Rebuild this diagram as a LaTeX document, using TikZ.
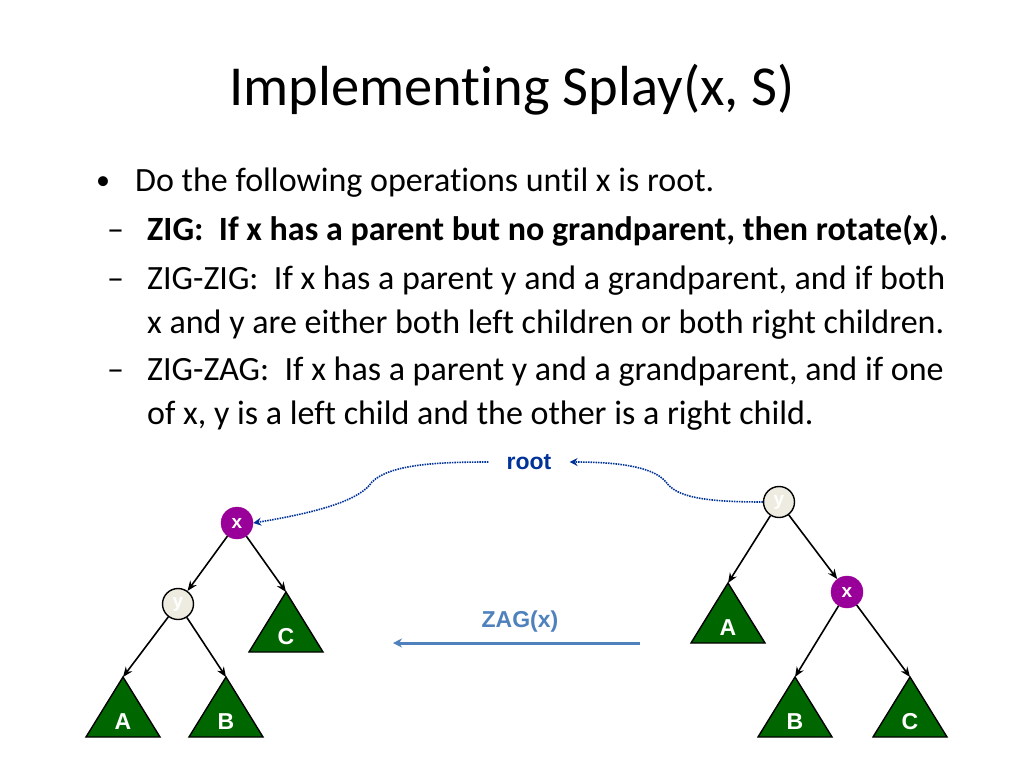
\documentclass[tikz,border=0pt]{standalone}
\usepackage{fontspec}
\setmainfont{Carlito}[Ligatures={NoCommon}]
\newfontfamily\arialf{Liberation Sans}
\usetikzlibrary{arrows.meta}
\definecolor{purp}{RGB}{153,0,153}
\definecolor{lightc}{RGB}{238,236,225}
\definecolor{tgreen}{RGB}{0,102,0}
\definecolor{rootblue}{RGB}{0,51,153}
\definecolor{zagblue}{RGB}{79,129,189}
\tikzset{
  xnode/.style={circle,fill=purp,draw=purp,minimum size=32pt,inner sep=0pt,text=white,font=\arialf\bfseries\fontsize{19}{19}\selectfont},
  ynode/.style={circle,fill=lightc,draw=black,line width=1.4pt,minimum size=31pt,inner sep=0pt,text=white,font=\arialf\bfseries\fontsize{19}{19}\selectfont},
  tri/.style={fill=tgreen,draw=black,line width=1.4pt,line join=miter},
  tlab/.style={text=white,font=\arialf\bfseries\fontsize{23}{23}\selectfont,inner sep=0pt},
  edge/.style={draw=black,line width=1.6pt,-{Stealth[length=10pt,width=8pt]}},
  dotc/.style={draw=rootblue,line width=1.6pt,dash pattern=on 1.5pt off 1pt,-{Stealth[length=8pt,width=8pt]}},
  body/.style={anchor=base west,inner sep=0pt,font=\fontsize{34}{34}\selectfont},
  bulmark/.style={anchor=base west,inner sep=0pt,font=\fontsize{34}{34}\selectfont},
}
\begin{document}
\begin{tikzpicture}[x=1pt,y=-1pt]
\useasboundingbox (0,0) rectangle (1024,768);
\fill[white] (0,0) rectangle (1024,768);
% title
\node[anchor=base,inner sep=0pt,font=\fontsize{56.5}{56.5}\selectfont] (title) at (512,105) {Implementing Splay(x, S)};
% bullets
\node[bulmark,font=\fontsize{28}{28}\selectfont] (b1) at (96,189) {•};
\node[body] (t1) at (135,191) {Do the following operations until x is root.};
\node[bulmark] (d2) at (107,240) {–};
\node[body,font=\fontsize{34}{34}\selectfont\bfseries] (t2) at (147,240) {ZIG:\ \ If x has a parent but no grandparent, then rotate(x).};
\node[bulmark] (d3) at (107,289) {–};
\node[body] (t3) at (147,289) {ZIG-ZIG:\ \ If x has a parent y and a grandparent, and if both};
\node[body] (t3b) at (147,333) {x and y are either both left children or both right children.};
\node[bulmark] (d4) at (107,380) {–};
\node[body] (t4) at (147,380) {ZIG-ZAG:\ \ If x has a parent y and a grandparent, and if one};
\node[body] (t4b) at (147,424) {of x, y is a left child and the other is a right child.};
% root label
\node[text=rootblue,font=\arialf\bfseries\fontsize{23}{23}\selectfont,inner xsep=18pt,inner ysep=2pt] (rootlab) at (529,462) {root};
% left tree
\node[xnode] (x1) at (237,523) {x};
\node[ynode] (y1) at (178,604) {y};
\coordinate (Atop1) at (123,677);
\coordinate (Btop1) at (226,677);
\coordinate (Ctop1) at (286,592);
\draw[tri] (Atop1) -- ++(37,60) -- ++(-74,0) -- cycle;
\draw[tri] (Btop1) -- ++(37,60) -- ++(-74,0) -- cycle;
\draw[tri] (Ctop1) -- ++(37,60) -- ++(-74,0) -- cycle;
\node[tlab] (Al1) at (123,722) {A};
\node[tlab] (Bl1) at (226,722) {B};
\node[tlab] (Cl1) at (286,637) {C};
\draw[edge] (x1) -- (y1);
\draw[edge] (x1) -- (Ctop1);
\draw[edge] (y1) -- (Atop1);
\draw[edge] (y1) -- (Btop1);
% right tree
\node[ynode] (y2) at (779,502) {y};
\node[xnode] (x2) at (847,592) {x};
\coordinate (Atop2) at (728,583);
\coordinate (Btop2) at (795,677);
\coordinate (Ctop2) at (910,677);
\draw[tri] (Atop2) -- ++(37,60) -- ++(-74,0) -- cycle;
\draw[tri] (Btop2) -- ++(37,60) -- ++(-74,0) -- cycle;
\draw[tri] (Ctop2) -- ++(37,60) -- ++(-74,0) -- cycle;
\node[tlab] (Al2) at (728,628) {A};
\node[tlab] (Bl2) at (795,722) {B};
\node[tlab] (Cl2) at (910,722) {C};
\draw[edge] (y2) -- (Atop2);
\draw[edge] (y2) -- (x2);
\draw[edge] (x2) -- (Btop2);
\draw[edge] (x2) -- (Ctop2);
% dotted curves
\draw[dotc] (rootlab.west) .. controls (440,462) and (390,464) .. (372,482)
   .. controls (360,500) and (320,512) .. (x1.east);
\draw[dotc] (y2.west) .. controls (700,502) and (676,496) .. (666,482)
   .. controls (652,465) and (610,462) .. (rootlab.east);
% ZAG
\node[text=zagblue,font=\arialf\bfseries\fontsize{23}{23}\selectfont,inner sep=0pt] (zag) at (520,622) {ZAG(x)};
\coordinate (zs) at (640,643);
\coordinate (ze) at (393,643);
\draw[draw=zagblue,line width=3pt,-{Stealth[length=9pt,width=9pt]}] (zs) -- (ze);
\end{tikzpicture}
\end{document}
